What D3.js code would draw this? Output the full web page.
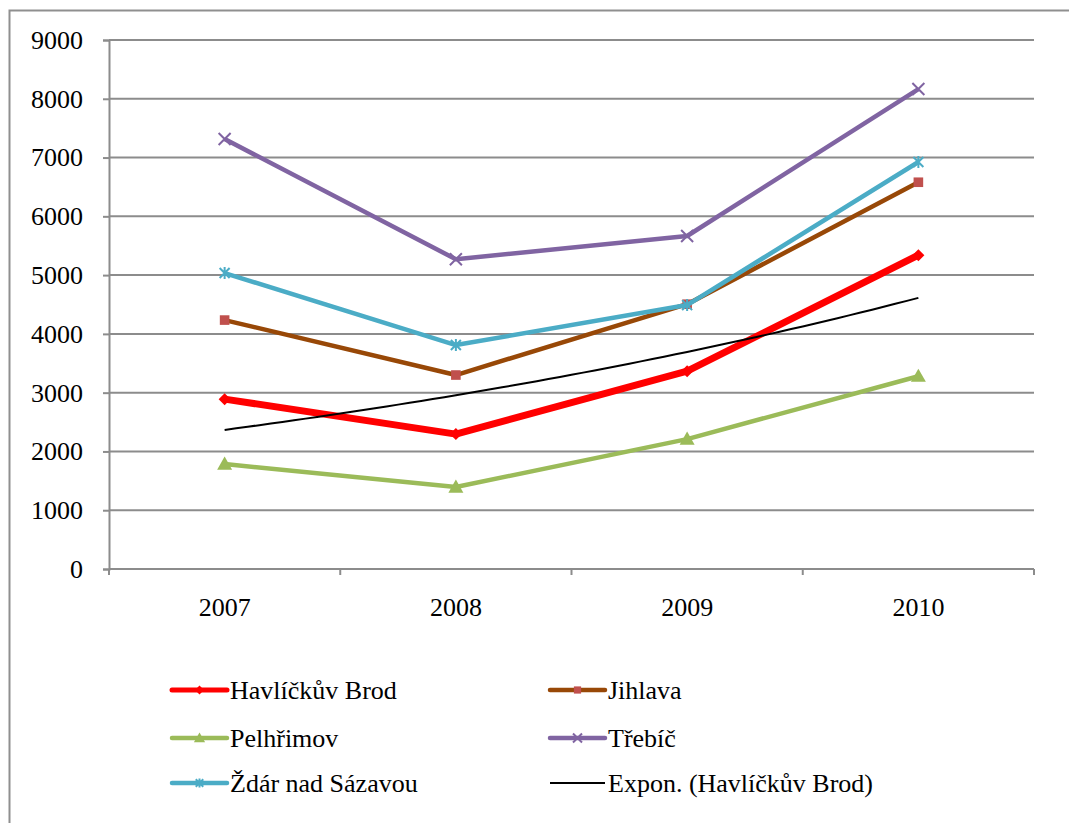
<!DOCTYPE html>
<html>
<head>
<meta charset="utf-8">
<script src="https://cdn.jsdelivr.net/npm/d3@7"></script>
</head>
<body style="margin:0">
<svg id="chart" width="1069" height="823"></svg>
<script>
// Years on the category axis
const years = ["2007", "2008", "2009", "2010"];

// Values per district
const havlickuvBrod = [2890, 2295, 3365, 5340];
const jihlava = [4235, 3300, 4505, 6580];
const pelhrimov = [1785, 1395, 2210, 3280];
const trebic = [7315, 5270, 5665, 8165];
const zdar = [5035, 3810, 4490, 6925];

// Value axis ticks
const yTicks = [0, 1000, 2000, 3000, 4000, 5000, 6000, 7000, 8000, 9000];

const seriesNames = ["Havlíčkův Brod", "Jihlava", "Pelhřimov", "Třebíč", "Ždár nad Sázavou"];
const trendName = "Expon. (Havlíčkův Brod)";

const FONT = "Times New Roman";
const FONT_SIZE = 26;

const series = [
  { name: seriesNames[0], values: havlickuvBrod, line: "#ff0000", marker: "#ff0000", width: 7, shape: "diamond" },
  { name: seriesNames[1], values: jihlava, line: "#984807", marker: "#c0504d", width: 4.5, shape: "square" },
  { name: seriesNames[2], values: pelhrimov, line: "#9bbb59", marker: "#9bbb59", width: 4.5, shape: "triangle" },
  { name: seriesNames[3], values: trebic, line: "#8064a2", marker: "#8064a2", width: 4.5, shape: "cross" },
  { name: seriesNames[4], values: zdar, line: "#4bacc6", marker: "#4bacc6", width: 4.5, shape: "star" }
];

const svg = d3.select("#chart");
const gridColor = "#8c8c8c";

// Chart frame (left and top edges fall inside the canvas)
svg.append("path")
  .attr("d", "M9.5,823 L9.5,10.5 L1069,10.5")
  .attr("fill", "none").attr("stroke", "#8f8f8f").attr("stroke-width", 2);

const plot = { left: 109, right: 1034, top: 40, bottom: 569 };

const x = d3.scaleBand().domain(years).range([plot.left, plot.right]).padding(0);
const cx = d => x(d) + x.bandwidth() / 2;
const y = d3.scaleLinear().domain([0, 9000]).range([plot.bottom, plot.top]);

// Horizontal gridlines
svg.append("g")
  .selectAll("line")
  .data(yTicks.filter(t => t > 0))
  .join("line")
  .attr("x1", plot.left).attr("x2", plot.right)
  .attr("y1", d => y(d)).attr("y2", d => y(d))
  .attr("stroke", gridColor).attr("stroke-width", 2);

// Value axis: lines from d3.axisLeft, labels drawn as plain text
const yAxis = svg.append("g")
  .attr("transform", `translate(${plot.left},0)`)
  .call(d3.axisLeft(y).tickValues(yTicks).tickSize(6).tickFormat(""));
yAxis.select(".domain").attr("stroke", gridColor).attr("stroke-width", 2);
yAxis.selectAll(".tick line").attr("stroke", gridColor).attr("stroke-width", 2);
svg.append("g").selectAll("text")
  .data(yTicks)
  .join("text")
  .attr("x", plot.left - 26).attr("y", d => y(d)).attr("dy", "0.34em")
  .attr("text-anchor", "end")
  .attr("font-family", FONT).attr("font-size", FONT_SIZE)
  .text(d => d3.format("d")(d));

// Category axis: ticks sit on the band boundaries
const xAxis = svg.append("g")
  .attr("transform", `translate(0,${plot.bottom})`);
xAxis.append("line")
  .attr("x1", plot.left).attr("x2", plot.right)
  .attr("stroke", gridColor).attr("stroke-width", 2);
const bounds = years.map(d => x(d)).concat([x(years[years.length - 1]) + x.bandwidth()]);
xAxis.selectAll("line.tk")
  .data(bounds)
  .join("line").attr("class", "tk")
  .attr("x1", d => d).attr("x2", d => d)
  .attr("y1", 0).attr("y2", 6)
  .attr("stroke", gridColor).attr("stroke-width", 2);
xAxis.selectAll("text")
  .data(years)
  .join("text")
  .attr("x", d => cx(d)).attr("y", 47)
  .attr("text-anchor", "middle")
  .attr("font-family", FONT).attr("font-size", FONT_SIZE)
  .text(d => d);

// Marker drawing
function drawMarker(g, shape, color, px, py, s) {
  if (shape === "diamond") {
    g.append("path").attr("d", `M${px},${py - s}L${px + s},${py}L${px},${py + s}L${px - s},${py}Z`).attr("fill", color);
  } else if (shape === "square") {
    g.append("rect").attr("x", px - s * 0.8).attr("y", py - s * 0.8).attr("width", s * 1.6).attr("height", s * 1.6).attr("fill", color);
  } else if (shape === "triangle") {
    g.append("path").attr("d", `M${px},${py - s}L${px + s},${py + s * 0.75}L${px - s},${py + s * 0.75}Z`).attr("fill", color);
  } else if (shape === "cross") {
    g.append("path").attr("d", `M${px - s},${py - s}L${px + s},${py + s}M${px - s},${py + s}L${px + s},${py - s}`)
      .attr("stroke", color).attr("stroke-width", 2).attr("fill", "none");
  } else if (shape === "star") {
    g.append("path").attr("d", `M${px - s},${py - s}L${px + s},${py + s}M${px - s},${py + s}L${px + s},${py - s}M${px},${py - s * 1.2}L${px},${py + s * 1.2}`)
      .attr("stroke", color).attr("stroke-width", 2).attr("fill", "none");
  }
}

const markerSize = { diamond: 6, square: 6, triangle: 7.5, cross: 6, star: 5 };

const line = d3.line().x((d, i) => cx(years[i])).y(d => y(d));

series.forEach(s => {
  const g = svg.append("g");
  g.append("path")
    .datum(s.values)
    .attr("d", line)
    .attr("fill", "none")
    .attr("stroke", s.line)
    .attr("stroke-width", s.width)
    .attr("stroke-linejoin", "round");
  s.values.forEach((v, i) => drawMarker(g, s.shape, s.marker, cx(years[i]), y(v), markerSize[s.shape]));
});

// Exponential trendline fitted to Havlíčkův Brod (least squares on ln(y))
const n = havlickuvBrod.length;
const xs = d3.range(1, n + 1);
const lnY = havlickuvBrod.map(v => Math.log(v));
const mx = d3.mean(xs), my = d3.mean(lnY);
const slope = d3.sum(xs.map((xi, i) => (xi - mx) * (lnY[i] - my))) / d3.sum(xs.map(xi => (xi - mx) ** 2));
const icpt = my - slope * mx;
const xIdx = d3.scaleLinear().domain([1, n]).range([cx(years[0]), cx(years[n - 1])]);
const trendPts = d3.range(1, n + 0.001, 0.05).map(t => [xIdx(t), y(Math.exp(icpt + slope * t))]);
svg.append("path")
  .attr("d", d3.line()(trendPts))
  .attr("fill", "none").attr("stroke", "#000").attr("stroke-width", 2);

// Legend
const legendRows = [
  { x: 172, y: 690, s: series[0] },
  { x: 550, y: 690, s: series[1] },
  { x: 172, y: 738, s: series[2] },
  { x: 550, y: 738, s: series[3] },
  { x: 172, y: 783, s: series[4] },
  { x: 550, y: 783, s: null }
];
const legend = svg.append("g");
legendRows.forEach(r => {
  const g = legend.append("g");
  const x0 = r.x, x1 = r.x + 55;
  if (r.s) {
    g.append("line").attr("x1", x0).attr("x2", x1).attr("y1", r.y).attr("y2", r.y)
      .attr("stroke", r.s.line).attr("stroke-width", r.s.width === 7 ? 5 : 4.5).attr("stroke-linecap", "round");
    drawMarker(g, r.s.shape, r.s.marker, (x0 + x1) / 2, r.y, markerSize[r.s.shape] * 0.75);
  } else {
    g.append("line").attr("x1", x0).attr("x2", x1).attr("y1", r.y).attr("y2", r.y)
      .attr("stroke", "#000").attr("stroke-width", 2);
  }
  g.append("text")
    .attr("x", x1 + 3).attr("y", r.y).attr("dy", "0.34em")
    .attr("font-family", FONT).attr("font-size", FONT_SIZE)
    .text(r.s ? r.s.name : trendName);
});
</script>
</body>
</html>
